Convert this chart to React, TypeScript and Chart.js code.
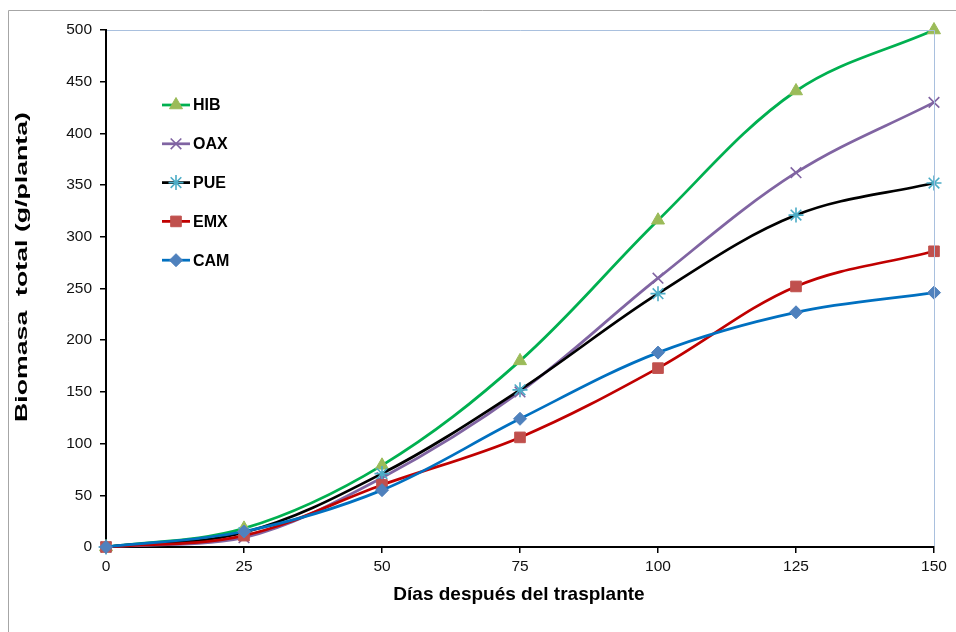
import React, { useEffect, useRef } from 'react';
import { Chart, registerables } from 'chart.js';
import { drawPoint } from 'chart.js/helpers';

Chart.register(...registerables);

// ---- data ----
const days = [0, 25, 50, 75, 100, 125, 150];
const seriesNames = ['HIB', 'OAX', 'PUE', 'EMX', 'CAM'];
const hib = [0, 18, 79, 180, 316, 441, 500];
const oax = [0, 9, 67, 150, 260, 362, 430];
const pue = [0, 14, 71, 152, 245, 321, 352];
const emx = [0, 11, 60, 106, 173, 252, 286];
const cam = [0, 15, 55, 124, 188, 227, 246];
const xTickStep = 25;
const yTickStep = 50;
const xTitle = 'Días después del trasplante';
const yTitle = 'Biomasa  total (g/planta)';

// ---- styles ----
const seriesValues = [hib, oax, pue, emx, cam];
const lineColors = ['#00B050', '#8064A2', '#000000', '#C00000', '#0070C0'];
const markerFill = ['#9BBB59', 'rgba(0,0,0,0)', 'rgba(0,0,0,0)', '#C0504D', '#4F81BD'];
const markerStroke = ['#9BBB59', '#8064A2', '#4BACC6', '#C0504D', '#4F81BD'];
const markerStyle = ['triangle', 'crossRot', 'star', 'rect', 'rectRot'];
const markerRadius = [7.5, 7.5, 7.5, 7.5, 6.5];
const markerBorder = [1, 1.6, 1.6, 1, 1];
const FONT = '"Liberation Sans", Arial, sans-serif';

const decorPlugin = {
  id: 'decor',
  beforeDraw(chart: any) {
    const ctx = chart.ctx;
    ctx.save();
    ctx.fillStyle = '#ffffff';
    ctx.fillRect(0, 0, chart.width, chart.height);
    ctx.restore();
  },
  afterDraw(chart: any) {
    const ctx = chart.ctx;
    const a = chart.chartArea;
    ctx.save();
    // outer frame
    ctx.strokeStyle = '#A6A6A6';
    ctx.lineWidth = 1;
    ctx.beginPath();
    ctx.moveTo(8.5, chart.height);
    ctx.lineTo(8.5, 10.5);
    ctx.lineTo(chart.width, 10.5);
    ctx.stroke();
    // plot area top/right border
    ctx.strokeStyle = '#A9C0DE';
    ctx.beginPath();
    ctx.moveTo(a.left + 1, Math.round(a.top) + 0.5);
    ctx.lineTo(Math.round(a.right) + 0.5, Math.round(a.top) + 0.5);
    ctx.lineTo(Math.round(a.right) + 0.5, a.bottom - 1);
    ctx.stroke();

    // x title
    ctx.fillStyle = '#000';
    ctx.font = `bold 19px ${FONT}`;
    ctx.textAlign = 'center';
    ctx.textBaseline = 'alphabetic';
    ctx.fillText(xTitle, 519, 600);

    // y title (stretched along its length like the reference)
    ctx.save();
    ctx.font = `bold 16.5px ${FONT}`;
    const w = ctx.measureText(yTitle).width;
    ctx.translate(27, 267);
    ctx.rotate(-Math.PI / 2);
    ctx.scale(310 / w, 1);
    ctx.textAlign = 'center';
    ctx.textBaseline = 'alphabetic';
    ctx.fillText(yTitle, 0, 0);
    ctx.restore();

    // legend
    for (let i = 0; i < seriesNames.length; i++) {
      const y = 105 + i * 38.8;
      ctx.strokeStyle = lineColors[i];
      ctx.lineWidth = 2.75;
      ctx.beginPath();
      ctx.moveTo(162, y);
      ctx.lineTo(190, y);
      ctx.stroke();
      ctx.fillStyle = markerFill[i];
      ctx.strokeStyle = markerStroke[i];
      ctx.lineWidth = markerBorder[i];
      drawPoint(ctx, { pointStyle: markerStyle[i], rotation: 0, radius: markerRadius[i], borderWidth: markerBorder[i] }, 176, y);
      ctx.fillStyle = '#000';
      ctx.font = `bold 16px ${FONT}`;
      ctx.textAlign = 'left';
      ctx.textBaseline = 'middle';
      ctx.fillText(seriesNames[i], 193, y + 1);
    }
    ctx.restore();
  },
};

export default function App() {
  const ref = useRef<HTMLCanvasElement>(null);
  useEffect(() => {
    const datasets = seriesNames.map((name, i) => ({
      label: name,
      data: days.map((d, j) => ({ x: d, y: seriesValues[i][j] })),
      borderColor: lineColors[i],
      borderWidth: 2.75,
      backgroundColor: markerFill[i],
      pointBackgroundColor: markerFill[i],
      pointBorderColor: markerStroke[i],
      pointBorderWidth: markerBorder[i],
      pointStyle: markerStyle[i],
      pointRadius: markerRadius[i],
      tension: 0.35,
      fill: false,
      clip: false as any,
      order: seriesNames.length - i,
    }));
    const chart = new Chart(ref.current as HTMLCanvasElement, {
      type: 'line',
      data: { datasets },
      plugins: [decorPlugin],
      options: {
        responsive: false,
        animation: false,
        layout: { padding: { top: 30, right: 22, left: 0, bottom: 0 } },
        plugins: { legend: { display: false }, tooltip: { enabled: false } },
        scales: {
          x: {
            type: 'linear',
            min: 0,
            max: 150,
            ticks: { stepSize: xTickStep, color: '#111', font: { family: FONT, size: 15.5 }, padding: 4, maxRotation: 0 },
            grid: { drawOnChartArea: false, drawTicks: true, tickLength: 6, color: '#000', lineWidth: 1.5 },
            border: { color: '#000', width: 2 },
            afterFit: (s: any) => { s.height = 85; },
          },
          y: {
            min: 0,
            max: 500,
            ticks: { stepSize: yTickStep, color: '#111', font: { family: FONT, size: 15.5 }, padding: 8 },
            grid: { drawOnChartArea: false, drawTicks: true, tickLength: 6, color: '#000', lineWidth: 1.5 },
            border: { color: '#000', width: 2 },
            afterFit: (s: any) => { s.width = 106; },
          },
        },
      } as any,
    });
    return () => chart.destroy();
  }, []);
  return (
    <div style={{ position: 'fixed', left: 0, top: 0, width: 956, height: 632, background: '#fff' }}>
      <canvas ref={ref} width={956} height={632} style={{ display: 'block', width: 956, height: 632 }} />
    </div>
  );
}
